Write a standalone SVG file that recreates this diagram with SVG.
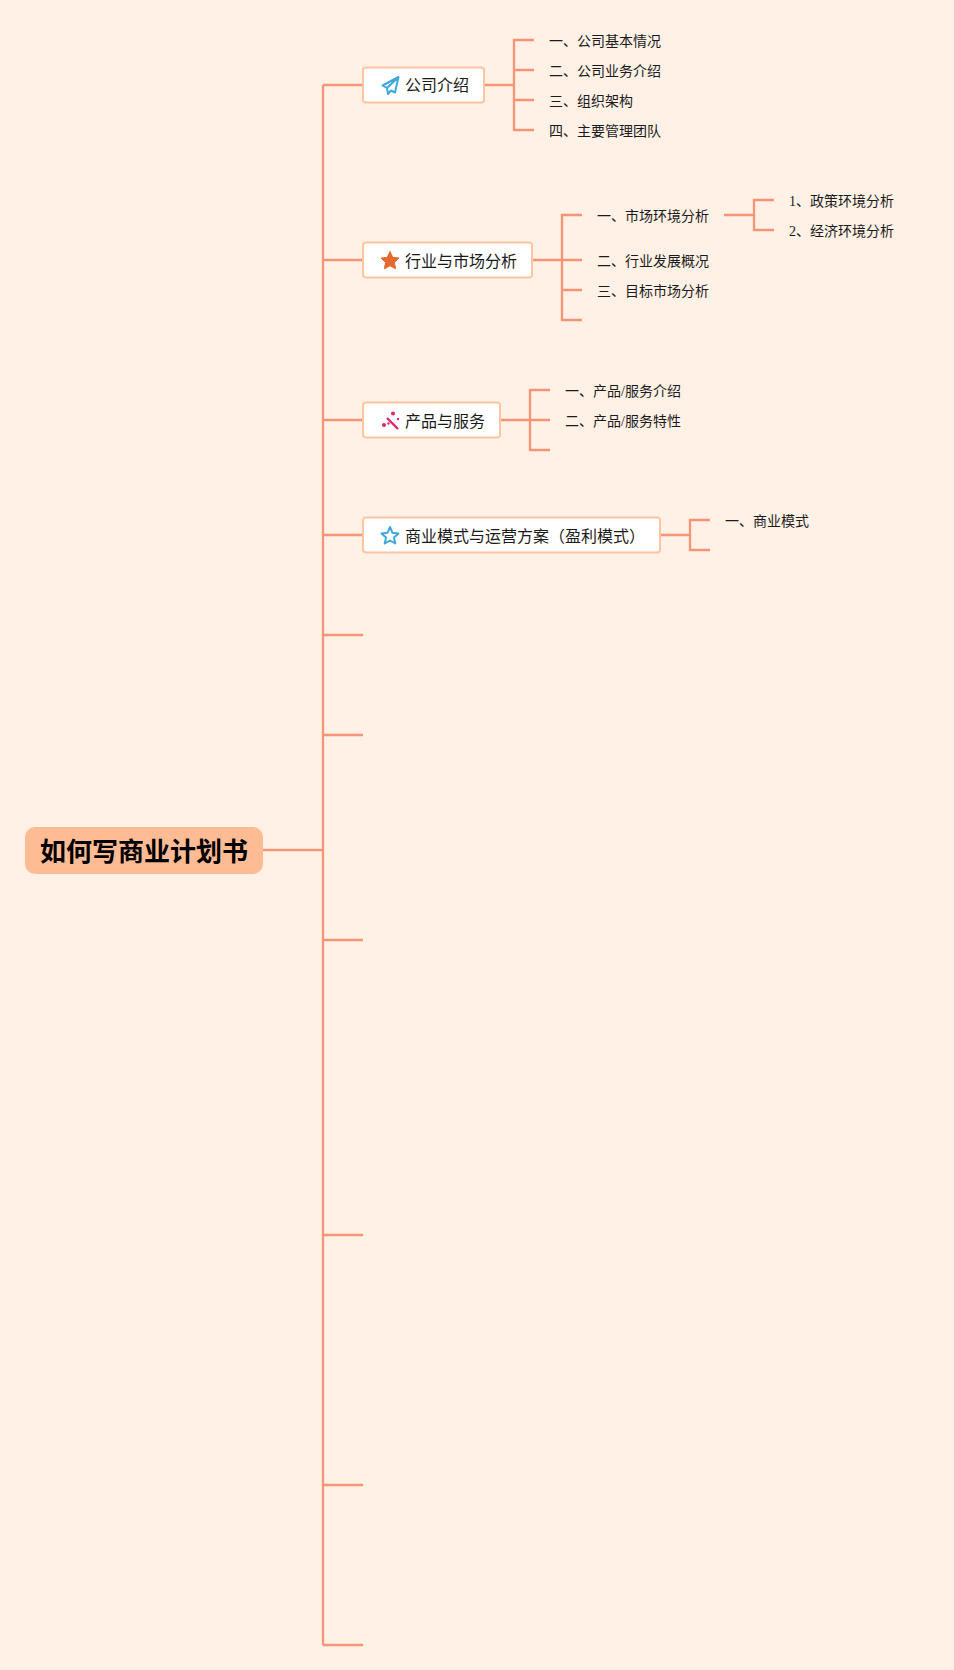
<svg xmlns="http://www.w3.org/2000/svg" width="954" height="1670" viewBox="0 0 954 1670">
<style>
.c{fill:none;stroke:#f59476;stroke-width:2.300}
.n{fill:#fff;stroke:#ffc4a0;stroke-width:2}
.t1{font:16px "Liberation Serif","Noto Sans CJK SC",sans-serif;fill:#1a1a1a}
.t2{font:14px "Liberation Serif","Noto Sans CJK SC",sans-serif;fill:#1a1a1a}
.r{font:bold 26px "Liberation Sans","Noto Sans CJK SC",sans-serif;fill:#000}
</style>
<rect width="954" height="1670" fill="#fff1e6"/>
<g id="connectors">
<path class="c" d="M262 850H323M323 85V1645M323 85H363M323 260H363M323 420H363M323 535H363M323 635H363M323 735H363M323 940H363M323 1235H363M323 1485H363M323 1645H363"/>
<path class="c" d="M484 85H514M534 40H514V130H534M514 70H534M514 100H534"/>
<path class="c" d="M532 260H562M582 215H562V320H582M562 260H582M562 290H582"/>
<path class="c" d="M724 215H754M774 200H754V230H774"/>
<path class="c" d="M500 420H530M550 390H530V450H550M530 420H550"/>
<path class="c" d="M660 535H690M710 520H690V550H710"/>
</g>
<g id="root"><rect x="25" y="827" width="238" height="47" rx="10" fill="#ffbc94"/><text class="r" x="40" y="861">如何写商业计划书</text></g>
<g id="n1"><rect class="n" x="363" y="67.500" width="121" height="35" rx="3"/>
<path d="M398.500 77L382.500 85.500L387 88L388 94L391 90.500L395 92.500ZM398.500 77L387 88" fill="none" stroke="#3ea8dc" stroke-width="2" stroke-linejoin="round"/>
<text class="t1" x="405" y="91">公司介绍</text></g>
<g id="n2"><rect class="n" x="363" y="242.500" width="169" height="35" rx="3"/>
<path d="M390 251.500L392.700 257.300L399 258.100L394.400 262.500L395.600 268.800L390 265.700L384.400 268.800L385.600 262.500L381 258.100L387.300 257.300Z" fill="#e3692f" stroke="#e3692f" stroke-linejoin="round"/>
<text class="t1" x="405" y="267">行业与市场分析</text></g>
<g id="n3"><rect class="n" x="363" y="402.500" width="137" height="35" rx="3"/>
<path d="M387 418L398 429" stroke="#e0256e" stroke-width="2.400" fill="none"/>
<circle cx="384" cy="425" r="2" fill="#e0256e"/><circle cx="393" cy="413.500" r="2" fill="#e0256e"/><circle cx="398" cy="419" r="1.200" fill="#e0256e"/><circle cx="388.500" cy="423.500" r="1.200" fill="#e0256e"/>
<text class="t1" x="405" y="427">产品与服务</text></g>
<g id="n4"><rect class="n" x="363" y="517.500" width="297" height="35" rx="3"/>
<path d="M390 527L392.500 532.800L398.500 533.500L394 537.600L395.300 543.500L390 540.500L384.700 543.500L386 537.600L381.500 533.500L387.500 532.800Z" fill="none" stroke="#3ea8dc" stroke-width="2" stroke-linejoin="round"/>
<text class="t1" x="405" y="542">商业模式与运营方案（盈利模式）</text></g>
<g id="l1"><text class="t2" x="549" y="46">一、公司基本情况</text></g>
<g id="l2"><text class="t2" x="549" y="76">二、公司业务介绍</text></g>
<g id="l3"><text class="t2" x="549" y="106">三、组织架构</text></g>
<g id="l4"><text class="t2" x="549" y="136">四、主要管理团队</text></g>
<g id="l5"><text class="t2" x="597" y="221">一、市场环境分析</text></g>
<g id="l6"><text class="t2" x="597" y="266">二、行业发展概况</text></g>
<g id="l7"><text class="t2" x="597" y="296">三、目标市场分析</text></g>
<g id="l8"><text class="t2" x="789" y="206">1、政策环境分析</text></g>
<g id="l9"><text class="t2" x="789" y="236">2、经济环境分析</text></g>
<g id="l10"><text class="t2" x="565" y="396">一、产品/服务介绍</text></g>
<g id="l11"><text class="t2" x="565" y="426">二、产品/服务特性</text></g>
<g id="l12"><text class="t2" x="725" y="526">一、商业模式</text></g>
</svg>
